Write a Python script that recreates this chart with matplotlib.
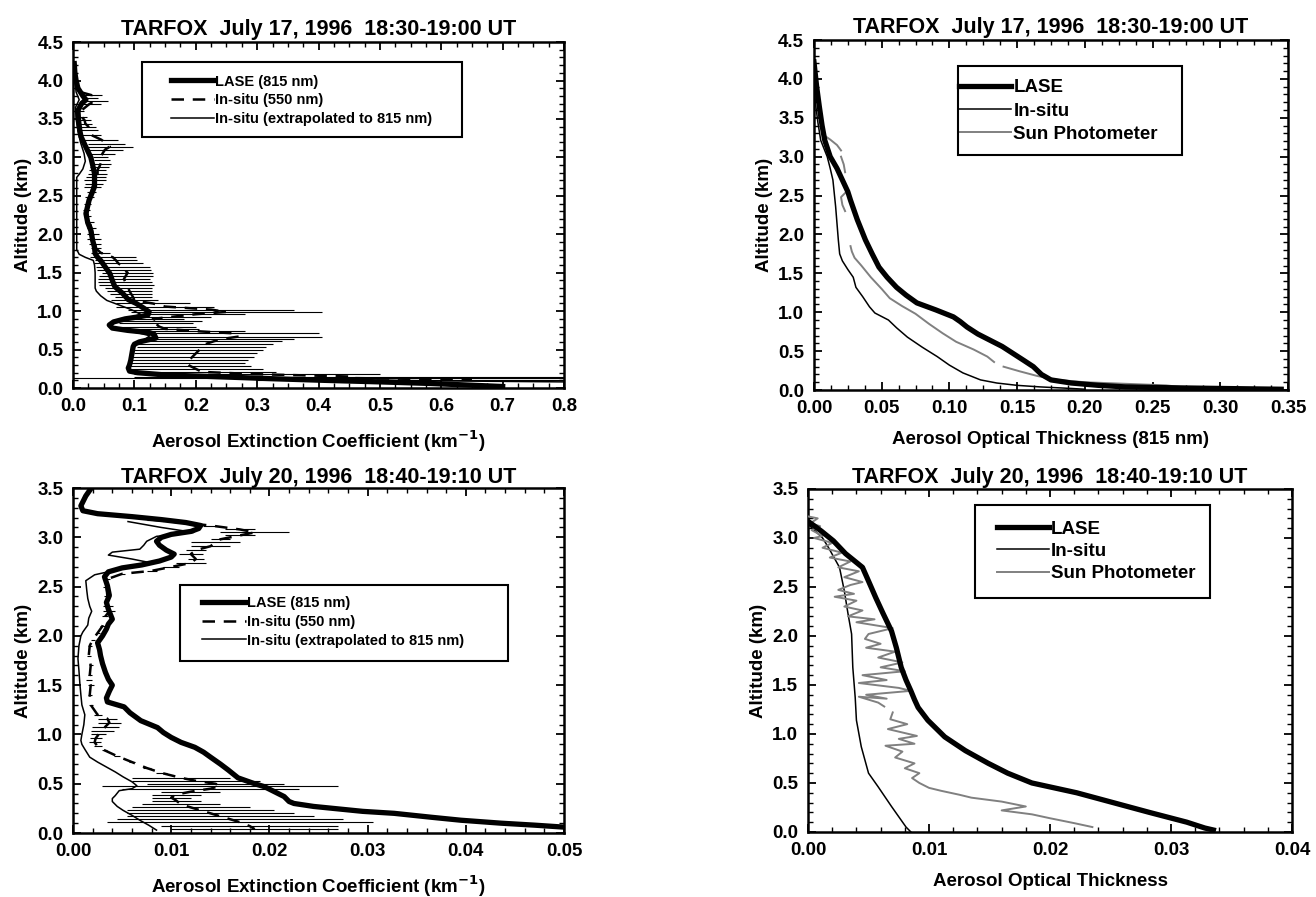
import numpy as np
import matplotlib
matplotlib.use("Agg")
import matplotlib.pyplot as plt
from matplotlib.patches import Rectangle
from matplotlib.ticker import MultipleLocator, FormatStrFormatter

plt.rcParams["font.family"] = ["Liberation Sans", "DejaVu Sans"]
plt.rcParams["font.weight"] = "bold"
plt.rcParams["axes.titleweight"] = "bold"
plt.rcParams["axes.labelweight"] = "bold"
plt.rcParams["axes.unicode_minus"] = False
plt.rcParams["mathtext.default"] = "bf"

# ---------------- July 17: extinction profiles (top left) ----------------
j17_lase_alt = [4.22, 4.10, 4.00, 3.90, 3.80, 3.75, 3.70, 3.61, 3.48, 3.35, 3.27, 3.15,
                3.00, 2.90, 2.79, 2.62, 2.44, 2.27, 2.15, 2.05, 1.92, 1.83, 1.75, 1.70,
                1.66, 1.58, 1.49, 1.40, 1.32, 1.23, 1.15, 1.10, 1.04, 0.99, 0.95, 0.93,
                0.90, 0.86, 0.82, 0.78, 0.75, 0.72, 0.70, 0.65, 0.60, 0.57, 0.54, 0.45,
                0.36, 0.30, 0.26, 0.22, 0.20, 0.17, 0.15, 0.12, 0.10, 0.08, 0.06, 0.04, 0.02]
j17_lase_ext = [0.002, 0.003, 0.005, 0.008, 0.016, 0.021, 0.014, 0.008, 0.009, 0.011, 0.013, 0.020,
                0.029, 0.032, 0.035, 0.035, 0.026, 0.021, 0.024, 0.029, 0.032, 0.035, 0.036, 0.040,
                0.045, 0.052, 0.060, 0.064, 0.068, 0.081, 0.090, 0.103, 0.115, 0.124, 0.122, 0.110,
                0.085, 0.066, 0.059, 0.064, 0.089, 0.125, 0.132, 0.135, 0.108, 0.100, 0.098, 0.096,
                0.094, 0.092, 0.090, 0.092, 0.105, 0.150, 0.225, 0.330, 0.410, 0.500, 0.580, 0.640, 0.700]

j17_550_alt = [3.85, 3.81, 3.77, 3.73, 3.69, 3.60, 3.52, 3.48, 3.44, 3.40, 3.35, 3.29, 3.23,
               3.18, 3.14, 3.10, 3.05, 3.00, 2.96, 2.92, 2.88, 2.84, 2.79, 2.74, 2.70, 2.66,
               2.62, 2.55, 2.48, 2.40, 2.32, 2.24, 2.16, 2.08, 2.00, 1.94, 1.88, 1.82, 1.76,
               1.70, 1.66, 1.62, 1.58, 1.54, 1.50, 1.46, 1.42, 1.38, 1.34, 1.30, 1.26, 1.22,
               1.18, 1.14, 1.10, 1.06, 1.02, 0.99, 0.96, 0.93, 0.90, 0.87, 0.84, 0.80, 0.77,
               0.74, 0.71, 0.67, 0.64, 0.61, 0.57, 0.53, 0.49, 0.45, 0.41, 0.37, 0.33, 0.29,
               0.25, 0.21, 0.18, 0.15, 0.13, 0.11]
j17_550_ext = [0.012, 0.030, 0.028, 0.034, 0.026, 0.012, 0.015, 0.019, 0.020, 0.025, 0.026, 0.030, 0.046,
               0.055, 0.060, 0.052, 0.048, 0.045, 0.047, 0.045, 0.043, 0.040, 0.040, 0.037, 0.036, 0.034,
               0.032, 0.030, 0.027, 0.024, 0.022, 0.024, 0.027, 0.030, 0.032, 0.034, 0.036, 0.037, 0.045,
               0.065, 0.070, 0.074, 0.082, 0.083, 0.089, 0.086, 0.083, 0.085, 0.087, 0.090, 0.092, 0.095,
               0.098, 0.100, 0.130, 0.150, 0.225, 0.250, 0.200, 0.165, 0.130, 0.140, 0.135, 0.140, 0.150,
               0.200, 0.265, 0.270, 0.245, 0.230, 0.215, 0.210, 0.205, 0.200, 0.195, 0.190, 0.185, 0.190,
               0.200, 0.210, 0.300, 0.450, 0.450, 0.650]
j17_550_err = [0.004, 0.017, 0.012, 0.023, 0.019, 0.006, 0.008, 0.010, 0.011, 0.012, 0.014, 0.016, 0.028,
               0.030, 0.038, 0.030, 0.020, 0.012, 0.013, 0.017, 0.015, 0.014, 0.016, 0.016, 0.018, 0.015,
               0.014, 0.008, 0.007, 0.006, 0.006, 0.006, 0.007, 0.008, 0.010, 0.012, 0.010, 0.008, 0.015,
               0.038, 0.035, 0.040, 0.044, 0.044, 0.042, 0.044, 0.043, 0.044, 0.045, 0.038, 0.036, 0.034,
               0.030, 0.038, 0.060, 0.080, 0.135, 0.155, 0.080, 0.060, 0.050, 0.070, 0.060, 0.060, 0.055,
               0.080, 0.135, 0.135, 0.115, 0.110, 0.110, 0.105, 0.105, 0.100, 0.100, 0.095, 0.095, 0.100,
               0.110, 0.120, 0.200, 0.350, 0.450, 0.350]

j17_ext_alt = [4.22, 4.00, 3.85, 3.75, 3.65, 3.50, 3.35, 3.20, 3.05, 2.95, 2.85, 2.78, 2.74,
               2.60, 2.40, 2.20, 2.00, 1.80, 1.74, 1.70, 1.66, 1.60, 1.50, 1.40, 1.30, 1.26,
               1.20, 1.14, 1.08, 1.02, 0.96, 0.92, 0.88, 0.82, 0.76, 0.72, 0.68, 0.62, 0.55,
               0.45, 0.35, 0.25, 0.20, 0.16, 0.13, 0.10, 0.08]
j17_ext_val = [0.000, 0.003, 0.005, 0.010, 0.004, 0.005, 0.008, 0.012, 0.018, 0.020, 0.016, 0.010, 0.006,
               0.006, 0.006, 0.006, 0.006, 0.006, 0.010, 0.020, 0.033, 0.035, 0.036, 0.036, 0.036, 0.038,
               0.045, 0.055, 0.075, 0.095, 0.110, 0.095, 0.075, 0.062, 0.070, 0.105, 0.125, 0.115, 0.100,
               0.095, 0.092, 0.090, 0.095, 0.150, 0.300, 0.500, 0.800]

# ---------------- July 17: optical thickness (top right) ----------------
j17_aot_lase_alt = [4.22, 3.90, 3.64, 3.40, 3.21, 3.00, 2.85, 2.70, 2.55, 2.44, 2.19, 1.93, 1.75,
                    1.58, 1.45, 1.32, 1.22, 1.12, 1.03, 0.94, 0.88, 0.81, 0.72, 0.64, 0.56, 0.47,
                    0.38, 0.30, 0.20, 0.13, 0.09, 0.06, 0.04, 0.03, 0.02, 0.01]
j17_aot_lase = [0.000, 0.002, 0.004, 0.006, 0.008, 0.012, 0.017, 0.021, 0.025, 0.027, 0.032, 0.038, 0.043,
                0.048, 0.054, 0.061, 0.068, 0.076, 0.090, 0.103, 0.108, 0.113, 0.121, 0.130, 0.139, 0.147,
                0.155, 0.162, 0.168, 0.175, 0.190, 0.210, 0.230, 0.260, 0.300, 0.345]

j17_aot_insitu_alt = [4.05, 3.70, 3.43, 3.21, 3.00, 2.85, 2.70, 2.36, 1.93, 1.75, 1.66, 1.55, 1.45,
                      1.32, 1.20, 1.07, 0.99, 0.90, 0.80, 0.68, 0.55, 0.43, 0.32, 0.22, 0.13, 0.09,
                      0.06, 0.04, 0.02, 0.01]
j17_aot_insitu = [0.000, 0.001, 0.003, 0.005, 0.0098, 0.012, 0.014, 0.016, 0.018, 0.019, 0.021, 0.025, 0.029,
                  0.031, 0.036, 0.041, 0.045, 0.055, 0.061, 0.069, 0.080, 0.091, 0.100, 0.110, 0.123, 0.135,
                  0.150, 0.167, 0.190, 0.200]

j17_sun_alt = [3.28, 3.22, 3.15, 3.08, np.nan, 3.00, 2.90, 2.80, np.nan, 2.55, 2.48, 2.38, 2.30,
               np.nan, 1.85, 1.78, 1.70, 1.60, 1.45, 1.30, 1.18, 1.08, 0.98, 0.85, 0.73, 0.62,
               0.52, 0.43, 0.36, np.nan, 0.30, 0.24, 0.18, 0.13, 0.10, 0.08, 0.06, 0.04]
j17_sun = [0.007, 0.012, 0.017, 0.020, np.nan, 0.020, 0.022, 0.023, np.nan, 0.024, 0.020, 0.021, 0.023,
           np.nan, 0.027, 0.028, 0.030, 0.035, 0.042, 0.050, 0.056, 0.065, 0.075, 0.085, 0.095, 0.105,
           0.118, 0.128, 0.133, np.nan, 0.140, 0.152, 0.165, 0.180, 0.200, 0.230, 0.260, 0.270]

# ---------------- July 20: extinction profiles (bottom left) ----------------
j20_lase_alt = [3.52, 3.42, 3.32, 3.27, 3.24, 3.21, 3.18, 3.15, 3.12, 3.09, 3.06, 3.03, 3.00,
                2.96, 2.92, 2.87, 2.83, 2.80, 2.76, 2.72, 2.69, 2.65, 2.60, 2.51, 2.41, 2.34,
                2.27, 2.17, 2.12, 2.07, 2.00, 1.93, 1.86, 1.80, 1.72, 1.63, 1.56, 1.50, 1.44,
                1.37, 1.33, 1.28, 1.22, 1.14, 1.07, 1.02, 0.97, 0.92, 0.87, 0.82, 0.77, 0.70,
                0.64, 0.56, 0.50, 0.47, 0.42, 0.37, 0.32, 0.30, 0.27, 0.25, 0.22, 0.20, 0.16,
                0.13, 0.10, 0.08, 0.06]
j20_lase_ext = [0.0020, 0.0013, 0.0008, 0.0010, 0.0025, 0.0060, 0.0090, 0.0115, 0.0130, 0.0128, 0.0120, 0.0100, 0.0090,
                0.0085, 0.0088, 0.0095, 0.0103, 0.0100, 0.0088, 0.0070, 0.0050, 0.0036, 0.0032, 0.0035, 0.0037, 0.0034,
                0.0036, 0.0040, 0.0036, 0.0034, 0.0030, 0.0025, 0.0027, 0.0028, 0.0030, 0.0033, 0.0036, 0.0040, 0.0037,
                0.0034, 0.0035, 0.0052, 0.0058, 0.0069, 0.0086, 0.0092, 0.0100, 0.0110, 0.0124, 0.0133, 0.0140, 0.0150,
                0.0158, 0.0168, 0.0185, 0.0195, 0.0205, 0.0215, 0.0220, 0.0225, 0.0245, 0.0265, 0.0295, 0.0327, 0.0365,
                0.0395, 0.0436, 0.0470, 0.0500]

j20_550_alt = [3.18, 3.12, 3.08, 3.05, 3.02, 2.98, 2.95, 2.91, 2.87, 2.83, 2.78, 2.74, 2.70,
               2.66, 2.63, 2.58, 2.50, 2.40, 2.30, 2.25, 2.20, 2.10, 2.03, 1.96, 1.90, 1.80,
               1.70, 1.60, 1.55, 1.50, 1.40, 1.30, 1.20, 1.16, 1.12, 1.08, 1.04, 1.00, 0.96,
               0.92, 0.88, 0.84, 0.78, 0.72, 0.66, 0.61, 0.56, 0.53, 0.50, 0.48, 0.45, 0.42,
               0.39, 0.36, 0.33, 0.29, 0.26, 0.23, 0.20, 0.17, 0.14, 0.11, 0.07, 0.04]
j20_550_ext = [0.0080, 0.0140, 0.0170, 0.0185, 0.0170, 0.0150, 0.0145, 0.0140, 0.0125, 0.0120, 0.0125, 0.0120, 0.0100,
               0.0080, 0.0050, 0.0036, 0.0034, 0.0035, 0.0036, 0.0037, 0.0033, 0.0030, 0.0025, 0.0020, 0.0017, 0.0016,
               0.0018, 0.0017, 0.0016, 0.0018, 0.0017, 0.0018, 0.0025, 0.0035, 0.0037, 0.0033, 0.0030, 0.0026, 0.0023,
               0.0022, 0.0025, 0.0032, 0.0045, 0.0060, 0.0075, 0.0090, 0.0110, 0.0125, 0.0145, 0.0150, 0.0140, 0.0120,
               0.0105, 0.0100, 0.0105, 0.0110, 0.0120, 0.0130, 0.0140, 0.0150, 0.0160, 0.0170, 0.0180, 0.0185]
j20_550_err = [0.0005, 0.0008, 0.0015, 0.0035, 0.0015, 0.0010, 0.0025, 0.0020, 0.0010, 0.0012, 0.0008, 0.0015, 0.0008,
               0.0005, 0.0003, 0.0002, 0.0003, 0.0003, 0.0005, 0.0006, 0.0003, 0.0003, 0.0002, 0.0002, 0.0002, 0.0002,
               0.0002, 0.0002, 0.0003, 0.0003, 0.0002, 0.0002, 0.0004, 0.0010, 0.0012, 0.0014, 0.0012, 0.0008, 0.0006,
               0.0006, 0.0004, 0.0003, 0.0003, 0.0003, 0.0004, 0.0006, 0.0050, 0.0065, 0.0070, 0.0120, 0.0090, 0.0030,
               0.0025, 0.0020, 0.0025, 0.0040, 0.0060, 0.0075, 0.0085, 0.0095, 0.0115, 0.0135, 0.0090, 0.0085]

j20_ext_alt = [3.16, 3.10, 3.05, 3.01, 2.96, 2.92, 2.88, 2.85, 2.82, 2.78, 2.75, 2.70, 2.66,
               2.62, 2.56, 2.46, 2.38, 2.30, 2.25, 2.18, 2.11, 2.04, 2.00, 1.90, 1.77, 1.65,
               1.51, 1.40, 1.30, 1.20, 1.10, 1.00, 0.94, 0.90, 0.85, 0.77, 0.72, 0.67, 0.62,
               0.57, 0.52, 0.48, 0.45, 0.43, 0.38, 0.35, 0.32, 0.27, 0.23, 0.18, 0.13, 0.08, 0.03]
j20_ext_val = [0.0056, 0.0090, 0.0123, 0.0085, 0.0075, 0.0072, 0.0068, 0.0040, 0.0036, 0.0060, 0.0075, 0.0060, 0.0040,
               0.0022, 0.0013, 0.0014, 0.0015, 0.0017, 0.0019, 0.0016, 0.0015, 0.0010, 0.0008, 0.0006, 0.0005, 0.0006,
               0.0007, 0.0008, 0.0009, 0.0012, 0.0011, 0.0009, 0.0008, 0.0009, 0.0012, 0.0017, 0.0025, 0.0034, 0.0043,
               0.0051, 0.0060, 0.0065, 0.0060, 0.0047, 0.0043, 0.0040, 0.0040, 0.0045, 0.0051, 0.0060, 0.0068, 0.0077, 0.0085]

# ---------------- July 20: optical thickness (bottom right) ----------------
j20_aot_lase_alt = [3.17, 3.07, 2.97, 2.84, 2.76, 2.70, 2.56, 2.39, 2.23, 2.05, 1.88, 1.68, 1.55,
                    1.44, 1.35, 1.27, 1.14, 0.97, 0.83, 0.70, 0.60, 0.50, 0.40, 0.30, 0.20, 0.10,
                    0.04, 0.02]
j20_aot_lase = [0.0000, 0.0011, 0.0021, 0.0031, 0.0039, 0.0045, 0.0050, 0.0056, 0.0062, 0.0069, 0.0073, 0.0077, 0.0081,
                0.0085, 0.0088, 0.0091, 0.0099, 0.0113, 0.0130, 0.0149, 0.0165, 0.0185, 0.0222, 0.0252, 0.0282, 0.0313,
                0.0328, 0.0335]

j20_aot_insitu_alt = [3.14, 3.00, 2.90, 2.70, 2.46, 2.23, 2.02, 1.68, 1.37, 1.14, 0.87, 0.60, 0.46,
                      0.26, 0.05, 0.00]
j20_aot_insitu = [0.0000, 0.0012, 0.0017, 0.0026, 0.0030, 0.0033, 0.0036, 0.0037, 0.0039, 0.0040, 0.0044, 0.0050, 0.0058,
                  0.0069, 0.0081, 0.0085]

j20_sun_alt = [3.22, 3.20, 3.15, 3.12, 3.08, 3.02, 3.00, 2.95, 2.90, 2.85, 2.80, 2.76, 2.70, 2.66,
               2.60, 2.55, 2.52, 2.47, 2.43, 2.40, 2.36, 2.30, 2.26, 2.20, 2.17, 2.14, 2.08, 2.02,
               1.97, 1.92, 1.88, 1.84, 1.78, 1.73, 1.68, 1.64, 1.60, 1.55, 1.52, 1.47, 1.44, 1.40,
               1.36, 1.38, 1.32, 1.28, np.nan, 1.22, 1.15, 1.10, 1.05, 0.98, 0.95, 0.90, 0.88, 0.82,
               0.76, 0.70, 0.65, 0.60, 0.55, 0.50, 0.45, 0.42, 0.38, 0.35, 0.31, 0.26, 0.22, 0.18,
               0.14, 0.09, 0.05]
j20_sun = [0.0000, 0.0008, 0.0002, 0.0010, 0.0003, 0.0012, 0.0005, 0.0020, 0.0012, 0.0028, 0.0018, 0.0035, 0.0025, 0.0042,
           0.0030, 0.0045, 0.0035, 0.0025, 0.0038, 0.0022, 0.0040, 0.0030, 0.0045, 0.0033, 0.0055, 0.0040, 0.0070, 0.0050,
           0.0047, 0.0060, 0.0048, 0.0072, 0.0058, 0.0078, 0.0060, 0.0080, 0.0045, 0.0065, 0.0042, 0.0075, 0.0085, 0.0048,
           0.0065, 0.0042, 0.0058, 0.0063, np.nan, 0.0070, 0.0068, 0.0082, 0.0066, 0.0090, 0.0075, 0.0088, 0.0064, 0.0078,
           0.0072, 0.0088, 0.0080, 0.0092, 0.0086, 0.0092, 0.0100, 0.0110, 0.0125, 0.0135, 0.0160, 0.0180, 0.0160, 0.0185,
           0.0200, 0.0220, 0.0235]

title_17 = "TARFOX  July 17, 1996  18:30-19:00 UT"
title_20 = "TARFOX  July 20, 1996  18:40-19:10 UT"
ext_label = r"Aerosol Extinction Coefficient (km$^{-1}$)"

DASH = (0, (5, 3.5))
GRAY = "#808080"
TICK_FS = 13.5
LABEL_FS = 13.5
TITLE_FS = 15.5


def style_axes(ax, xmax, xmajor, xminor, ymax, xfmt):
    ax.set_xlim(0, xmax)
    ax.set_ylim(0, ymax)
    ax.xaxis.set_major_locator(MultipleLocator(xmajor))
    ax.xaxis.set_minor_locator(MultipleLocator(xminor))
    ax.yaxis.set_major_locator(MultipleLocator(0.5))
    ax.yaxis.set_minor_locator(MultipleLocator(0.1))
    ax.xaxis.set_major_formatter(FormatStrFormatter(xfmt))
    ax.yaxis.set_major_formatter(FormatStrFormatter("%.1f"))
    ax.tick_params(which="both", direction="in", top=True, right=True, labelsize=TICK_FS, pad=7)
    ax.tick_params(which="major", length=6, width=1.3)
    ax.tick_params(which="minor", length=3.5, width=1.0)
    for sp in ax.spines.values():
        sp.set_linewidth(1.8)
    ax.set_ylabel("Altitude (km)", fontsize=LABEL_FS, labelpad=4)


def legend_box(ax, box, anchor, handles, labels, fontsize, hlen, spacing):
    x0, y0, x1, y1 = box
    ax.add_patch(Rectangle((x0, y0), x1 - x0, y1 - y0, transform=ax.transAxes,
                           fill=False, lw=1.5, ec="black", zorder=6))
    ax.legend(handles, labels, loc="center left", bbox_to_anchor=anchor, frameon=False,
              borderpad=0, borderaxespad=0, handlelength=hlen, handletextpad=0.1,
              labelspacing=spacing, prop={"size": fontsize, "weight": "bold"})


fig = plt.figure(figsize=(13.16, 8.97), dpi=100)
ax1 = fig.add_axes([0.0555, 0.5674, 0.3731, 0.3857])
ax2 = fig.add_axes([0.6185, 0.5652, 0.3602, 0.3902])
ax3 = fig.add_axes([0.0555, 0.0713, 0.3731, 0.3846])
ax4 = fig.add_axes([0.6140, 0.0725, 0.3678, 0.3824])

# top left
ax1.errorbar(j17_550_ext, j17_550_alt, xerr=j17_550_err, fmt="none", ecolor="black",
             elinewidth=0.8, capsize=0, zorder=2)
d1, = ax1.plot(j17_550_ext, j17_550_alt, color="black", lw=1.8, linestyle=DASH, zorder=3)
t1, = ax1.plot(j17_ext_val, j17_ext_alt, color="black", lw=1.1, zorder=3)
l1, = ax1.plot(j17_lase_ext, j17_lase_alt, color="black", lw=3.8, zorder=4)
style_axes(ax1, 0.8, 0.1, 0.025, 4.5, "%.1f")
ax1.set_title(title_17, fontsize=TITLE_FS, pad=5)
ax1.set_xlabel(ext_label, fontsize=LABEL_FS, labelpad=10)
legend_box(ax1, (0.14, 0.725, 0.792, 0.942), (0.2, 0.832), [l1, d1, t1],
           ["LASE (815 nm)", "In-situ (550 nm)", "In-situ (extrapolated to 815 nm)"],
           10.5, 2.9, 0.32)

# top right
l2, = ax2.plot(j17_aot_lase, j17_aot_lase_alt, color="black", lw=3.8, zorder=4)
t2, = ax2.plot(j17_aot_insitu, j17_aot_insitu_alt, color="black", lw=1.1, zorder=3)
s2, = ax2.plot(j17_sun, j17_sun_alt, color=GRAY, lw=1.4, zorder=3)
style_axes(ax2, 0.35, 0.05, 0.0125, 4.5, "%.2f")
ax2.set_title(title_17, fontsize=TITLE_FS, pad=5)
ax2.set_xlabel("Aerosol Optical Thickness (815 nm)", fontsize=LABEL_FS, labelpad=10)
legend_box(ax2, (0.304, 0.671, 0.776, 0.926), (0.306, 0.797), [l2, t2, s2],
           ["LASE", "In-situ", "Sun Photometer"], 13.5, 2.8, 0.32)

# bottom left
ax3.errorbar(j20_550_ext, j20_550_alt, xerr=j20_550_err, fmt="none", ecolor="black",
             elinewidth=0.8, capsize=0, zorder=2)
d3, = ax3.plot(j20_550_ext, j20_550_alt, color="black", lw=1.8, linestyle=DASH, zorder=3)
t3, = ax3.plot(j20_ext_val, j20_ext_alt, color="black", lw=1.1, zorder=3)
l3, = ax3.plot(j20_lase_ext, j20_lase_alt, color="black", lw=3.8, zorder=4)
style_axes(ax3, 0.05, 0.01, 0.002, 3.5, "%.2f")
ax3.set_title(title_20, fontsize=TITLE_FS, pad=4)
ax3.set_xlabel(ext_label, fontsize=LABEL_FS, labelpad=10)
legend_box(ax3, (0.218, 0.499, 0.886, 0.719), (0.263, 0.612), [l3, d3, t3],
           ["LASE (815 nm)", "In-situ (550 nm)", "In-situ (extrapolated to 815 nm)"],
           10.5, 3.0, 0.32)

# bottom right
l4, = ax4.plot(j20_aot_lase, j20_aot_lase_alt, color="black", lw=3.8, zorder=4)
t4, = ax4.plot(j20_aot_insitu, j20_aot_insitu_alt, color="black", lw=1.1, zorder=3)
s4, = ax4.plot(j20_sun, j20_sun_alt, color=GRAY, lw=1.4, zorder=3)
style_axes(ax4, 0.04, 0.01, 0.002, 3.5, "%.2f")
ax4.set_title(title_20, fontsize=TITLE_FS, pad=4)
ax4.set_xlabel("Aerosol Optical Thickness", fontsize=LABEL_FS, labelpad=10)
legend_box(ax4, (0.345, 0.682, 0.831, 0.953), (0.39, 0.818), [l4, t4, s4],
           ["LASE", "In-situ", "Sun Photometer"], 13.5, 2.8, 0.28)

fig.savefig("out.png", dpi=100)
